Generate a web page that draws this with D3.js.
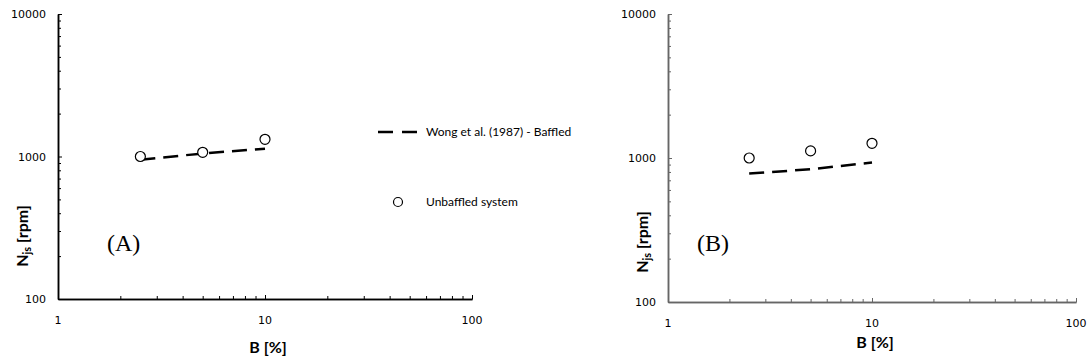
<!DOCTYPE html>
<html>
<head>
<meta charset="utf-8">
<script src="https://cdn.jsdelivr.net/npm/d3@7"></script>
<style>
  body { margin: 0; background: #fff; }
  svg { display: block; }
  .tick-label { font-family: "DejaVu Sans", sans-serif; font-size: 11px; fill: #000; }
  .axis-title { font-family: Lato, "Open Sans", sans-serif; font-weight: bold; font-size: 16px; fill: #000; }
  .legend-text { font-family: Lato, "Open Sans", sans-serif; font-size: 12px; fill: #000; }
  .panel-tag { font-family: "Liberation Serif", "DejaVu Serif", serif; font-size: 24px; fill: #000; }
</style>
</head>
<body>
<div id="chart"></div>
<script>
// tick values shared by both panels
const xTicks = [1, 10, 100];
const yTicks = [100, 1000, 10000];

// panel A
const concA = [2.5, 5, 10];
const unbaffledA = [1000, 1070, 1320];
const wongA = [950, 1050, 1135];

// panel B
const concB = [2.5, 5, 10];
const unbaffledB = [1000, 1120, 1265];
const wongB = [780, 835, 930];

const legendLabels = ['Wong et al. (1987) - Baffled', 'Unbaffled system'];

const width = 1089, height = 364;

const svg = d3.select('#chart').append('svg')
  .attr('width', width)
  .attr('height', height);

const panels = [
  { tag: '(A)', conc: concA, unbaffled: unbaffledA, wong: wongA,
    left: 58, right: 472, top: 14, bottom: 299, axisColor: '#000',
    tagX: 107, tagY: 251, xTitleY: 353, yTitleX: 28, yTitleY: 236, legend: true },
  { tag: '(B)', conc: concB, unbaffled: unbaffledB, wong: wongB,
    left: 668, right: 1076, top: 14, bottom: 302, axisColor: '#666',
    tagX: 697, tagY: 251, xTitleY: 348, yTitleX: 648, yTitleY: 242, legend: false }
];

function minorValues(domain) {
  const vals = [];
  for (let d = domain[0]; d < domain[1]; d *= 10) {
    for (let k = 2; k <= 9; k++) vals.push(d * k);
  }
  return vals;
}

panels.forEach(p => {
  const x = d3.scaleLog().domain([1, 100]).range([p.left, p.right]);
  const y = d3.scaleLog().domain([100, 10000]).range([p.bottom, p.top]);
  const g = svg.append('g');

  // axes: ticks point inside the plot
  const xAxis = g.append('g').attr('transform', `translate(0,${p.bottom})`);
  xAxis.call(d3.axisTop(x).tickValues(minorValues([1, 100])).tickSize(3).tickSizeOuter(0).tickFormat(''));
  xAxis.append('g').call(d3.axisTop(x).tickValues(xTicks).tickSize(4).tickSizeOuter(0).tickFormat(''));
  xAxis.selectAll('path.domain').attr('stroke', p.axisColor).attr('stroke-width', 1.5);
  xAxis.selectAll('line').attr('stroke', p.axisColor);

  const yAxis = g.append('g').attr('transform', `translate(${p.left},0)`);
  yAxis.call(d3.axisRight(y).tickValues(minorValues([100, 10000])).tickSize(3).tickSizeOuter(0).tickFormat(''));
  yAxis.append('g').call(d3.axisRight(y).tickValues(yTicks).tickSize(4).tickSizeOuter(0).tickFormat(''));
  yAxis.selectAll('path.domain').attr('stroke', p.axisColor).attr('stroke-width', 1.5);
  yAxis.selectAll('line').attr('stroke', p.axisColor);

  g.selectAll('.xlab').data(xTicks).enter().append('text')
    .attr('class', 'tick-label')
    .attr('x', d => x(d))
    .attr('y', p.bottom + 25)
    .attr('text-anchor', 'middle')
    .text(d => d);

  g.selectAll('.ylab').data(yTicks).enter().append('text')
    .attr('class', 'tick-label')
    .attr('x', p.left - 12)
    .attr('y', d => y(d) + 4)
    .attr('text-anchor', 'end')
    .text(d => d);

  // axis titles
  g.append('text')
    .attr('class', 'axis-title')
    .attr('x', (p.left + p.right) / 2 + 3)
    .attr('y', p.xTitleY)
    .attr('text-anchor', 'middle')
    .text('B [%]');

  const yt = g.append('text')
    .attr('class', 'axis-title')
    .attr('transform', `translate(${p.yTitleX},${p.yTitleY}) rotate(-90)`)
    .attr('text-anchor', 'middle');
  yt.append('tspan').text('N');
  yt.append('tspan').attr('font-size', '11px').attr('dy', 3).text('js');
  yt.append('tspan').attr('dy', -3).text(' [rpm]');

  g.append('text')
    .attr('class', 'panel-tag')
    .attr('x', p.tagX)
    .attr('y', p.tagY)
    .text(p.tag);

  // Wong correlation, dashed
  const line = d3.line().x(d => x(d[0])).y(d => y(d[1]));
  g.append('path')
    .datum(p.conc.map((c, i) => [c, p.wong[i]]))
    .attr('d', line)
    .attr('fill', 'none')
    .attr('stroke', '#000')
    .attr('stroke-width', 2.5)
    .attr('stroke-dasharray', '15,8');

  g.selectAll('.pt').data(p.conc.map((c, i) => [c, p.unbaffled[i]])).enter().append('circle')
    .attr('cx', d => x(d[0]))
    .attr('cy', d => y(d[1]))
    .attr('r', 5)
    .attr('fill', '#fff')
    .attr('stroke', '#000')
    .attr('stroke-width', 1.2);

  if (p.legend) {
    const lg = g.append('g');
    lg.append('line')
      .attr('x1', 378).attr('x2', 417)
      .attr('y1', 132).attr('y2', 132)
      .attr('stroke', '#000').attr('stroke-width', 2.5)
      .attr('stroke-dasharray', '15,9');
    lg.append('text').attr('class', 'legend-text')
      .attr('x', 426).attr('y', 136).text(legendLabels[0]);
    lg.append('circle')
      .attr('cx', 398).attr('cy', 202).attr('r', 4.5)
      .attr('fill', '#fff').attr('stroke', '#000').attr('stroke-width', 1.2);
    lg.append('text').attr('class', 'legend-text')
      .attr('x', 426).attr('y', 206).text(legendLabels[1]);
  }
});
</script>
</body>
</html>
